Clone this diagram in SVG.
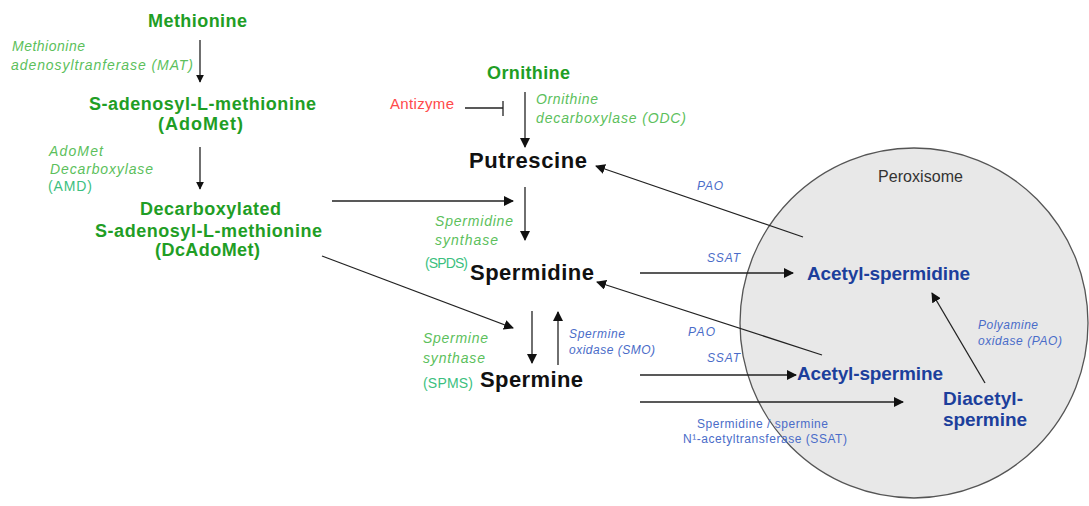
<svg xmlns="http://www.w3.org/2000/svg" width="1089" height="506" viewBox="0 0 1089 506">
<style>
text{font-family:"Liberation Sans",Arial,sans-serif}
.gb{font-weight:bold;font-size:18px;fill:#1f9e25}
.gi{font-style:italic;font-size:14px;fill:#5cbf5c}
.gt{font-size:14px;fill:#3cbf80}
.kb{font-weight:bold;font-size:22px;fill:#111}
.bb{font-weight:bold;font-size:19px;fill:#1c3f9c}
.bi{font-style:italic;font-size:12px;fill:#4a6cc8}
.br{font-size:12px;fill:#4a6cc8}
.ln{stroke:#222;stroke-width:1.3;fill:none}
</style>
<defs>
<marker id="ah" viewBox="0 0 10 10" refX="9" refY="5" markerWidth="8" markerHeight="8" markerUnits="userSpaceOnUse" orient="auto">
<path d="M0,0 L10,5 L0,10 z" fill="#111"/>
</marker>
<marker id="ahs" viewBox="0 0 10 10" refX="9" refY="5" markerWidth="10" markerHeight="10" markerUnits="userSpaceOnUse" orient="auto">
<path d="M0,0 L10,5 L0,10 z" fill="#111"/>
</marker>
</defs>
<g id="peroxisome">
<ellipse cx="914" cy="323" rx="174" ry="175" fill="#e8e8e8" stroke="#555" stroke-width="1.3"/>
<text x="878" y="182" font-size="16" fill="#333" textLength="85">Peroxisome</text>
</g>
<g id="connectors">
<line class="ln" x1="200" y1="40" x2="200" y2="82" marker-end="url(#ah)"/>
<line class="ln" x1="200" y1="147" x2="200" y2="189" marker-end="url(#ah)"/>
<line class="ln" x1="465" y1="108" x2="503" y2="108"/>
<line class="ln" x1="503" y1="101" x2="503" y2="116"/>
<line class="ln" x1="525" y1="92" x2="525" y2="147" marker-end="url(#ahs)"/>
<line class="ln" x1="332" y1="201" x2="513" y2="201" marker-end="url(#ahs)"/>
<line class="ln" x1="525" y1="187" x2="525" y2="240" marker-end="url(#ahs)"/>
<line class="ln" x1="322" y1="256" x2="513" y2="328" marker-end="url(#ahs)"/>
<line class="ln" x1="532" y1="311" x2="532" y2="363" marker-end="url(#ahs)"/>
<line class="ln" x1="558" y1="365" x2="558" y2="312" marker-end="url(#ahs)"/>
<line class="ln" x1="803" y1="237" x2="596" y2="166" marker-end="url(#ahs)"/>
<line class="ln" x1="640" y1="273" x2="793" y2="273" marker-end="url(#ahs)"/>
<line class="ln" x1="822" y1="355" x2="597" y2="282" marker-end="url(#ahs)"/>
<line class="ln" x1="640" y1="375" x2="796" y2="375" marker-end="url(#ahs)"/>
<line class="ln" x1="640" y1="402" x2="903" y2="402" marker-end="url(#ahs)"/>
<line class="ln" x1="985" y1="383" x2="932" y2="293" marker-end="url(#ahs)"/>
</g>
<g id="methionine"><text class="gb" x="148" y="27" textLength="99">Methionine</text></g>
<g id="mat-label">
<text class="gi" x="12" y="51" textLength="73">Methionine</text>
<text class="gi" x="11" y="70" textLength="182">adenosyltranferase  (MAT)</text>
</g>
<g id="adomet">
<text class="gb" x="89" y="110" textLength="227">S-adenosyl-L-methionine</text>
<text class="gb" x="158" y="130" textLength="85">(AdoMet)</text>
</g>
<g id="amd-label">
<text class="gi" x="49" y="156" textLength="54">AdoMet</text>
<text class="gi" x="50" y="174" textLength="103">Decarboxylase</text>
<text class="gt" x="48" y="191" textLength="44">(AMD)</text>
</g>
<g id="dcadomet">
<text class="gb" x="140" y="215" textLength="141">Decarboxylated</text>
<text class="gb" x="95" y="237" textLength="227">S-adenosyl-L-methionine</text>
<text class="gb" x="155" y="256" textLength="105">(DcAdoMet)</text>
</g>
<g id="ornithine"><text class="gb" x="487" y="79" textLength="83">Ornithine</text></g>
<g id="antizyme"><text x="390" y="109" font-size="15" fill="#ff4a4a" textLength="64">Antizyme</text></g>
<g id="odc-label">
<text class="gi" x="536" y="104" textLength="62">Ornithine</text>
<text class="gi" x="536" y="123" textLength="150">decarboxylase (ODC)</text>
</g>
<g id="putrescine"><text class="kb" x="469" y="168" textLength="118">Putrescine</text></g>
<g id="spds-label">
<text class="gi" x="435" y="226" textLength="78">Spermidine</text>
<text class="gi" x="435" y="245" textLength="63">synthase</text>
<text class="gt" x="425" y="268" textLength="43">(SPDS)</text>
</g>
<g id="spermidine"><text class="kb" x="470" y="280" textLength="124">Spermidine</text></g>
<g id="spms-label">
<text class="gi" x="423" y="343" textLength="65">Spermine</text>
<text class="gi" x="423" y="363" textLength="62">synthase</text>
<text class="gt" x="423" y="388" textLength="50">(SPMS)</text>
</g>
<g id="spermine"><text class="kb" x="480" y="387" textLength="103">Spermine</text></g>
<g id="smo-label">
<text class="bi" x="569" y="338" textLength="56">Spermine</text>
<text class="bi" x="569" y="354" textLength="86">oxidase (SMO)</text>
</g>
<g id="pao-1"><text class="bi" x="697" y="190" textLength="26">PAO</text></g>
<g id="ssat-1"><text class="bi" x="707" y="262" textLength="33">SSAT</text></g>
<g id="pao-2"><text class="bi" x="688" y="336" textLength="27">PAO</text></g>
<g id="ssat-2"><text class="bi" x="707" y="362" textLength="33">SSAT</text></g>
<g id="acetyl-spermidine"><text class="bb" x="807" y="280" textLength="163">Acetyl-spermidine</text></g>
<g id="acetyl-spermine"><text class="bb" x="797" y="380" textLength="146">Acetyl-spermine</text></g>
<g id="diacetyl-spermine">
<text class="bb" x="943" y="405" textLength="80">Diacetyl-</text>
<text class="bb" x="943" y="426" textLength="84">spermine</text>
</g>
<g id="pao-label">
<text class="bi" x="978" y="329" textLength="60">Polyamine</text>
<text class="bi" x="978" y="345" textLength="84">oxidase (PAO)</text>
</g>
<g id="ssat-label">
<text class="br" x="697" y="428" textLength="131">Spermidine / spermine</text>
<text class="br" x="683" y="443" textLength="164">N¹-acetyltransferase (SSAT)</text>
</g>
</svg>
